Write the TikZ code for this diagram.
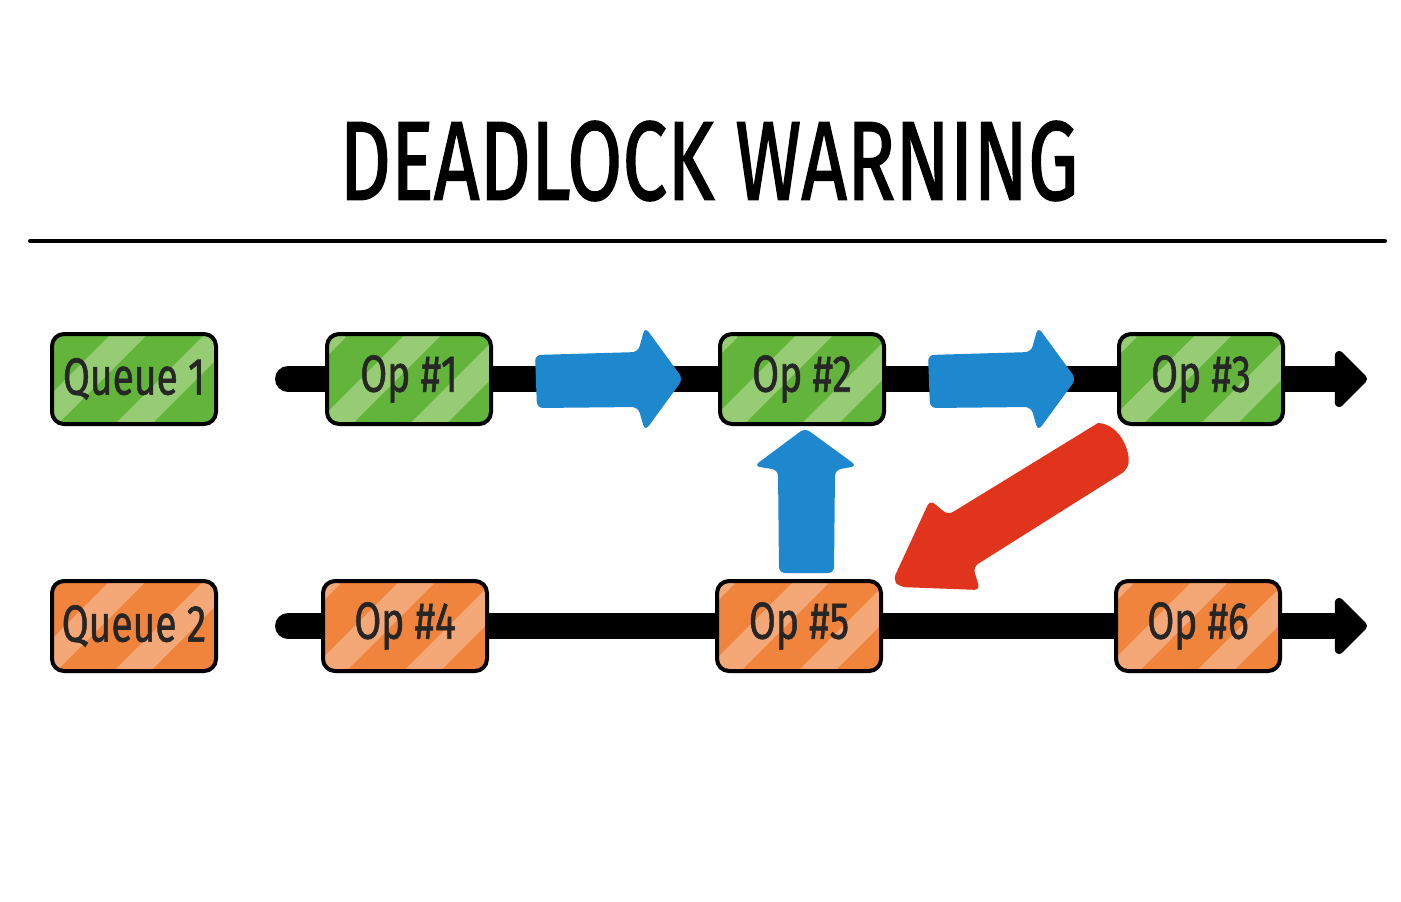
\documentclass[tikz,border=0pt]{standalone}
\usepackage{fontspec}
\setmainfont{Fira Sans}
\newfontfamily\boxfont{Fira Sans}[FakeBold=1.2]
\newfontfamily\titlefont{Fira Sans}[FakeBold=1.6]
\usepackage{graphicx}
\usetikzlibrary{arrows.meta}
\definecolor{gfill}{HTML}{62B43A}
\definecolor{glight}{HTML}{96CC73}
\definecolor{ofill}{HTML}{F0843C}
\definecolor{olight}{HTML}{F4A877}
\definecolor{bluearr}{HTML}{1E88CF}
\definecolor{redarr}{HTML}{E0341C}
\definecolor{ink}{HTML}{262626}
\tikzset{
  opbox/.style={draw=black, line width=2pt, rounded corners=6pt, fill=#1,
    minimum width=82pt, minimum height=45pt, inner sep=0pt,
    font=\boxfont\fontsize{26pt}{30pt}\selectfont, text=ink},
  stripes/.style={path picture={
    \begin{scope}[color=#1, shift={(path picture bounding box.center)}]
      \draw[line width=22pt] (-100-70,70) -- (-100+70,-70);
      \draw[line width=13pt] (6-70,70) -- (6+70,-70);
      \draw[line width=13pt] (100-70,70) -- (100+70,-70);
    \end{scope}}},
  greenbox/.style={opbox=gfill, stripes=glight},
  orangebox/.style={opbox=ofill, stripes=olight},
  timeline/.style={line width=13pt, line cap=round, -{Triangle[length=17pt,width=33pt,round]}},
  blockarrow/.style={rounded corners=3pt, draw=none},
}
\newcommand{\lbl}[1]{\scalebox{0.75}[1]{#1}}
\begin{document}
\begin{tikzpicture}[x=0.5pt,y=-0.5pt]
\useasboundingbox (0,0) rectangle (1401,901);
\fill[white] (0,0) rectangle (1401,901);

% title
\node[font=\titlefont\fontsize{56pt}{60pt}\selectfont, text=black, inner sep=0pt] (title) at (709,161) {\scalebox{0.713}[1]{DEADLOCK WARNING}};
\coordinate (ruleL) at (30,241);
\coordinate (ruleR) at (1385,241);
\draw[line width=2pt, line cap=round] (ruleL) -- (ruleR);

% timelines
\coordinate (s1) at (288,379);
\coordinate (e1) at (1367,379);
\coordinate (s2) at (288,626);
\coordinate (e2) at (1367,626);
\draw[timeline] (s1) -- (e1);
\draw[timeline] (s2) -- (e2);

% boxes
\node[greenbox] (q1) at (134,379) {\lbl{Queue 1}};
\node[greenbox] (op1) at (409,379) {\lbl{Op \#1}};
\node[greenbox] (op2) at (802,379) {\lbl{Op \#2}};
\node[greenbox] (op3) at (1201,379) {\lbl{Op \#3}};
\node[orangebox] (q2) at (134,626) {\lbl{Queue 2}};
\node[orangebox] (op4) at (405,626) {\lbl{Op \#4}};
\node[orangebox] (op5) at (799,626) {\lbl{Op \#5}};
\node[orangebox] (op6) at (1198,626) {\lbl{Op \#6}};

% blue arrows
\fill[bluearr, blockarrow] (535,355) -- (638,352) -- (645,327) -- (683,379) -- (645,431) -- (638,407) -- (537,408) -- cycle;
\fill[bluearr, blockarrow] (928,355) -- (1031,352) -- (1038,327) -- (1076,379) -- (1038,431) -- (1031,407) -- (930,408) -- cycle;
\fill[bluearr, blockarrow] (779,573) -- (778,470) -- (754,466) -- (805,428) -- (857,466) -- (835,470) -- (834,573) -- cycle;

% red arrow
\fill[redarr] (1098,423) [rounded corners=3pt] -- (948,515) -- (930,500) -- (893,580) -- (900,587) -- (980,590) -- (973,567) -- (1127,470) [sharp corners] .. controls (1131,452) and (1120,424) .. (1098,423) -- cycle;
\end{tikzpicture}
\end{document}
